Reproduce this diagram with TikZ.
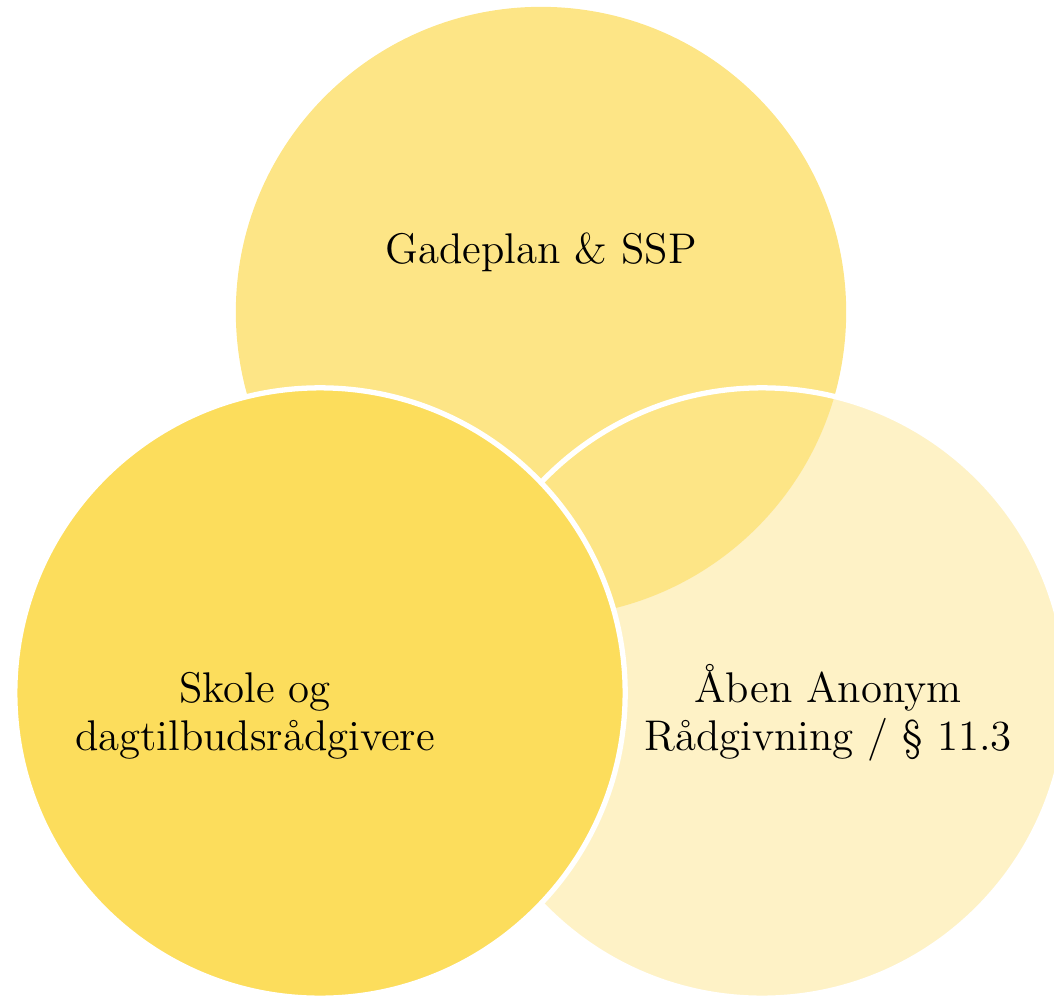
\documentclass[tikz,border=0pt]{standalone}
\definecolor{topc}{HTML}{FDE586}
\definecolor{rightc}{HTML}{FEF2C6}
\definecolor{leftc}{HTML}{FCDD5C}
\begin{document}
\begin{tikzpicture}[x=0.01cm,y=-0.01cm,
  blob/.style={circle,inner sep=0pt,outer sep=0pt,minimum size=6.1cm},
  rim/.style={draw=white,line width=1.5pt},
  lbl/.style={align=center,font=\fontsize{12.2}{13.6}\selectfont,text=black,inner sep=0pt}]
\useasboundingbox (0,0) rectangle (1054,999);
\clip (0,0) rectangle (1054,999);
\node[blob,fill=rightc] (right) at (762,693) {};
\node[blob,fill=topc] (top) at (541,312) {};
\draw[rim] (right.center) circle[radius=3.05cm];
\node[blob,fill=leftc,rim] (left) at (320,693) {};
\node[lbl,anchor=base] (ttop) at (541,263) {Gadeplan \& SSP};
\node[lbl,anchor=base] (tleft) at (255,750) {Skole og\\dagtilbudsrådgivere};
\node[lbl,anchor=base] (tright) at (828,750) {Åben Anonym\\Rådgivning / § 11.3};
\end{tikzpicture}
\end{document}
